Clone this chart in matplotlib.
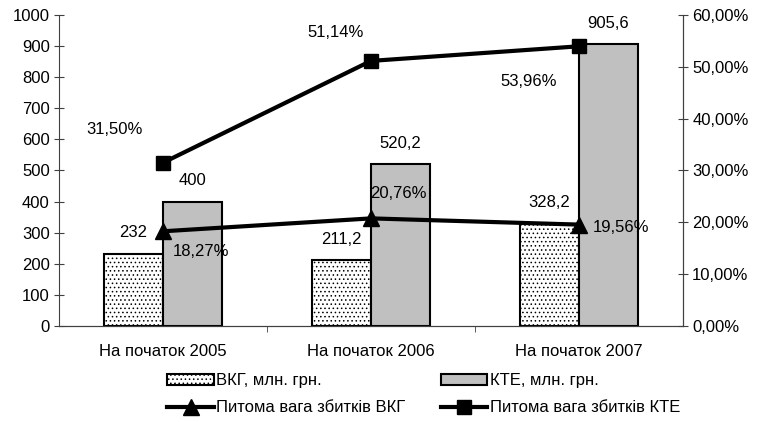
import numpy as np
import matplotlib.pyplot as plt
from matplotlib.ticker import FuncFormatter

plt.rcParams['font.family'] = ['Liberation Sans', 'DejaVu Sans']
plt.rcParams['font.size'] = 12
plt.rcParams['hatch.linewidth'] = 0.6

# дані
categories = ['На початок 2005', 'На початок 2006', 'На початок 2007']
vkg = [232, 211.2, 328.2]
kte = [400, 520.2, 905.6]
share_vkg = [18.27, 20.76, 19.56]
share_kte = [31.50, 51.14, 53.96]

vkg_labels = ['232', '211,2', '328,2']
kte_labels = ['400', '520,2', '905,6']
share_vkg_labels = ['18,27%', '20,76%', '19,56%']
share_kte_labels = ['31,50%', '51,14%', '53,96%']

fig = plt.figure(figsize=(7.61, 4.22), dpi=100)
ax = fig.add_axes([0.0775, 0.2275, 0.82, 0.737])
ax2 = ax.twinx()

x = np.arange(len(categories))
w = 0.284
b1 = ax.bar(x - w / 2, vkg, w, color='white', edgecolor='black', hatch='....',
            linewidth=1.5, label='ВКГ, млн. грн.', zorder=2)
b2 = ax.bar(x + w / 2, kte, w, color='#c0c0c0', edgecolor='black',
            linewidth=1.5, label='КТЕ, млн. грн.', zorder=2)

l1, = ax2.plot(x, share_vkg, color='black', lw=3, marker='^', ms=11,
               label='Питома вага збитків ВКГ')
l2, = ax2.plot(x, share_kte, color='black', lw=3, marker='s', ms=10.5,
               label='Питома вага збитків КТЕ')

ax.set_xlim(-0.5, 2.5)
ax.set_ylim(0, 1000)
ax.set_yticks(np.arange(0, 1001, 100))
ax2.set_ylim(0, 60)
ax2.set_yticks(np.arange(0, 61, 10))
ax2.yaxis.set_major_formatter(FuncFormatter(lambda v, p: f'{v:.2f}%'.replace('.', ',')))

ax.set_xticks(x)
ax.set_xticklabels(categories)
ax.set_xticks([0.5, 1.5], minor=True)
ax.tick_params(axis='x', which='major', length=0, pad=13)
ax.tick_params(axis='x', which='minor', length=4, direction='out', color='#404040')
ax.tick_params(axis='y', direction='inout', length=7.2, color='#404040', pad=3)
ax2.tick_params(axis='y', direction='inout', length=7.2, color='#404040', pad=3)

for a in (ax, ax2):
    a.spines['top'].set_visible(False)
    for s in ('left', 'right', 'bottom'):
        a.spines[s].set_color('#404040')
ax2.spines['left'].set_visible(False)

# підписи даних (зсув у пікселях)
for i in range(3):
    ax.annotate(vkg_labels[i], (x[i] - w / 2, vkg[i]), xytext=(0, 21),
                textcoords='offset pixels', ha='center', va='center')
    ax.annotate(kte_labels[i], (x[i] + w / 2, kte[i]), xytext=(0, 21),
                textcoords='offset pixels', ha='center', va='center')

skte_off = [(-48, 33), (-35, 28), (-50, -35)]
svkg_off = [(38, -20), (27, 25), (42, -3)]
for i in range(3):
    ax2.annotate(share_kte_labels[i], (x[i], share_kte[i]), xytext=skte_off[i],
                 textcoords='offset pixels', ha='center', va='center')
    ax2.annotate(share_vkg_labels[i], (x[i], share_vkg[i]), xytext=svkg_off[i],
                 textcoords='offset pixels', ha='center', va='center')

fig.legend([b1, l1, b2, l2],
           [b1.get_label(), l1.get_label(), b2.get_label(), l2.get_label()],
           ncol=2, loc='lower left', bbox_to_anchor=(0.2, -0.02), frameon=False,
           handlelength=2.8, handletextpad=0.15, columnspacing=2.1,
           labelspacing=0.73, fontsize=12)

fig.savefig('out.png', dpi=100)
